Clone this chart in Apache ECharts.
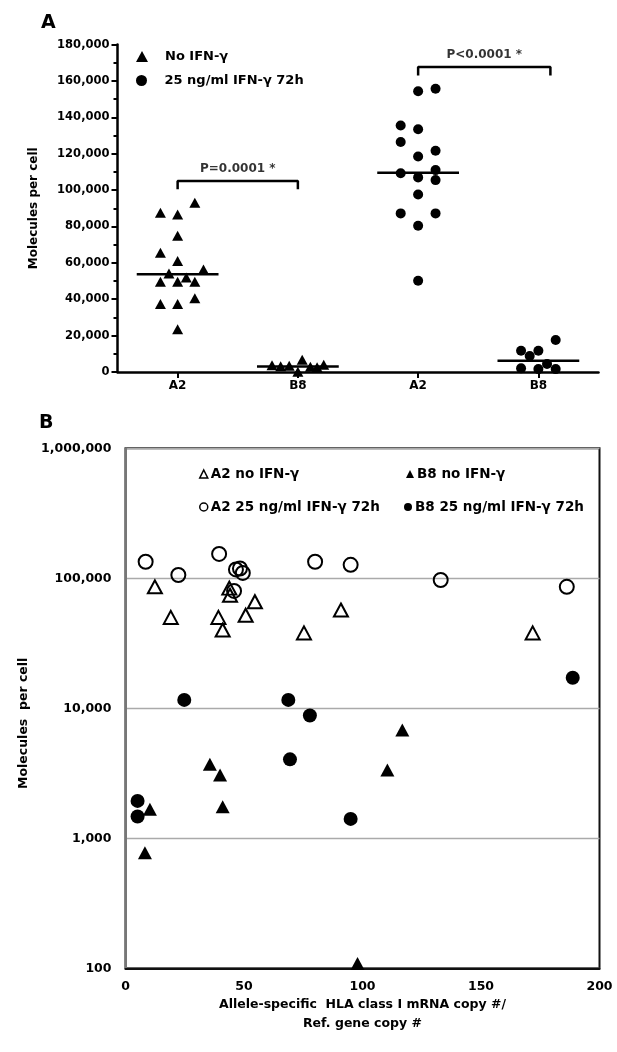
<!DOCTYPE html>
<html><head><meta charset="utf-8">
<script src="https://cdn.jsdelivr.net/npm/echarts@6/dist/echarts.min.js"></script>
<style>html,body{margin:0;padding:0;background:#fff}#c{width:617px;height:1052px}</style>
</head><body><div id="c"></div>
<script>
// ---------- Panel A data ----------
const catLabelsA = ['A2', 'B8', 'A2', 'B8'];
const a2NoVals = [93000, 87500, 86600, 74900, 65500, 61000, 56400, 54200, 49600, 49600, 52000, 49600, 37400, 37400, 40500, 23500];
const a2NoJit  = [0.143, -0.143, 0, 0, -0.143, 0, 0.215, -0.072, -0.143, 0, 0.072, 0.143, -0.143, 0, 0.143, 0];
const b8NoVals = [3700, 3100, 3400, 6800, 150, 2900, 2600, 4000];
const b8NoJit  = [-0.215, -0.143, -0.072, 0.036, 0, 0.104, 0.16, 0.215];
const a2IfnVals = [154400, 155700, 135500, 133500, 126500, 121600, 118500, 109300, 107000, 111000, 105500, 97600, 87200, 87200, 80400, 50200];
const a2IfnJit  = [0, 0.145, -0.145, 0, -0.145, 0.145, 0, -0.145, 0, 0.145, 0.145, 0, -0.145, 0.145, 0, 0];
const b8IfnVals = [17600, 11700, 11700, 8800, 4400, 2000, 1600, 1600];
const b8IfnJit  = [0.144, -0.144, 0, -0.072, 0.072, -0.144, 0, 0.144];
const mediansA = [53700, 3000, 109500, 6200];
const pLabels = ['P=0.0001 *', 'P<0.0001 *'];
const bracketX = [[1, 2], [3, 4.1]];
const bracketTop = [105000, 167700];
const bracketEnd = [100500, 163000];

// ---------- Panel B data ----------
const bA2NoX = [12.4, 19.1, 39.2, 41.0, 43.8, 44.1, 50.7, 54.6, 75.3, 90.9, 171.8];
const bA2NoY = [86000, 50000, 50000, 40000, 84000, 74000, 52000, 66000, 38000, 57000, 38000];
const bA2IfnX = [8.5, 22.3, 39.5, 46.6, 48.3, 49.5, 45.8, 80, 95, 133, 186.2];
const bA2IfnY = [134000, 106000, 154000, 117000, 119000, 110000, 80000, 134000, 127000, 97000, 86000];
const bB8NoX = [35.6, 39.9, 41.0, 10.3, 8.2, 97.9, 116.8, 110.5];
const bB8NoY = [3720, 3070, 1750, 1670, 775, 109, 6800, 3350];
const bB8IfnX = [24.8, 68.7, 77.8, 69.4, 5.1, 5.1, 188.7, 95];
const bB8IfnY = [11600, 11600, 8800, 4050, 1940, 1470, 17200, 1410];

const FONT = 'DejaVu Sans';
const fmt = v => Number(v).toLocaleString('en-US');
const pts = (cat, vals, jit) => vals.map((v, i) => [cat + jit[i], v]);
const zip = (xs, ys) => xs.map((x, i) => [x, ys[i]]);

const nameNoA = 'No IFN-γ';
const nameIfnA = '25 ng/ml IFN-γ 72h';
const nB1 = 'A2 no IFN-γ', nB2 = 'B8 no IFN-γ', nB3 = 'A2 25 ng/ml IFN-γ 72h', nB4 = 'B8 25 ng/ml IFN-γ 72h';

const solid = {color: '#000', opacity: 1};
const series = [
  {name: nameNoA, type: 'scatter', xAxisIndex: 1, yAxisIndex: 0, symbol: 'triangle', symbolSize: [11, 10],
   itemStyle: solid, data: pts(1, a2NoVals, a2NoJit).concat(pts(2, b8NoVals, b8NoJit)), z: 5},
  {name: nameIfnA, type: 'scatter', xAxisIndex: 1, yAxisIndex: 0, symbol: 'circle', symbolSize: 10,
   itemStyle: solid, data: pts(3, a2IfnVals, a2IfnJit).concat(pts(4, b8IfnVals, b8IfnJit)), z: 5}
];
mediansA.forEach((m, i) => {
  series.push({type: 'line', xAxisIndex: 1, yAxisIndex: 0, symbol: 'none', silent: true,
    lineStyle: {color: '#000', width: 2.5, opacity: 1}, data: [[i + 1 - 0.34, m], [i + 1 + 0.34, m]], z: 4});
});
bracketX.forEach((bx, i) => {
  series.push({type: 'line', xAxisIndex: 1, yAxisIndex: 0, symbol: 'none', silent: true,
    lineStyle: {color: '#000', width: 2.5, opacity: 1},
    data: [[bx[0], bracketEnd[i]], [bx[0], bracketTop[i]], [bx[1], bracketTop[i]], [bx[1], bracketEnd[i]]]});
  series.push({type: 'scatter', xAxisIndex: 1, yAxisIndex: 0, symbolSize: 0, silent: true,
    data: [[(bx[0] + bx[1]) / 2, bracketTop[i]]],
    label: {show: true, position: 'top', distance: 6, formatter: pLabels[i], color: '#000',
      fontFamily: FONT, fontWeight: 'bold', fontSize: 12}});
});
const bStyleOpen = {color: 'rgba(0,0,0,0)', borderColor: '#000', borderWidth: 2, opacity: 1};
series.push(
  {name: nB1, type: 'scatter', xAxisIndex: 2, yAxisIndex: 1, symbol: 'triangle', symbolSize: [14, 13], itemStyle: bStyleOpen, data: zip(bA2NoX, bA2NoY)},
  {name: nB3, type: 'scatter', xAxisIndex: 2, yAxisIndex: 1, symbol: 'circle', symbolSize: 14, itemStyle: bStyleOpen, data: zip(bA2IfnX, bA2IfnY)},
  {name: nB2, type: 'scatter', xAxisIndex: 2, yAxisIndex: 1, symbol: 'triangle', symbolSize: [14, 13], itemStyle: solid, data: zip(bB8NoX, bB8NoY)},
  {name: nB4, type: 'scatter', xAxisIndex: 2, yAxisIndex: 1, symbol: 'circle', symbolSize: 14, itemStyle: solid, data: zip(bB8IfnX, bB8IfnY)}
);

const legA = (name, top) => ({data: [name], left: 131, top: top, orient: 'horizontal', selectedMode: false,
  itemWidth: 12, itemHeight: 11, textStyle: {fontFamily: FONT, fontWeight: 'bold', fontSize: 13, color: '#000', padding: [0, 0, 0, 12]}});
const legB = (name, left, top) => ({data: [name], left: left, top: top, selectedMode: false,
  itemWidth: 8, itemHeight: 8, itemStyle: {borderWidth: 1.5},
  textStyle: {fontFamily: FONT, fontWeight: 'bold', fontSize: 13.5, color: '#000', padding: [0, 0, 0, -2]}});

const labelStyle = {fontFamily: FONT, fontWeight: 'bold', color: '#000'};

const option = {
  backgroundColor: '#fff',
  animation: false,
  title: [
    {text: 'A', left: 36, top: 9, textStyle: {fontFamily: FONT, fontWeight: 'bold', fontSize: 19, color: '#000'}},
    {text: 'B', left: 34, top: 409, textStyle: {fontFamily: FONT, fontWeight: 'bold', fontSize: 19, color: '#000'}}
  ],
  legend: [
    legA(nameNoA, 45), legA(nameIfnA, 69),
    legB(nB1, 194, 462), legB(nB2, 401, 462), legB(nB3, 194, 495), legB(nB4, 399, 495)
  ],
  grid: [
    {left: 117.5, top: 44.6, width: 481, height: 327.4, containLabel: false},
    {left: 125.5, top: 448.3, width: 474, height: 520, containLabel: false, show: true, borderColor: '#111', borderWidth: 2}
  ],
  xAxis: [
    {type: 'category', gridIndex: 0, data: catLabelsA, boundaryGap: true,
     axisLine: {show: true, onZero: false, lineStyle: {color: '#000', width: 2.5}},
     axisTick: {show: true, alignWithLabel: true, length: 6, lineStyle: {color: '#000', width: 2}},
     axisLabel: Object.assign({fontSize: 12, margin: 8}, labelStyle), splitLine: {show: false}},
    {type: 'value', gridIndex: 0, min: 0.5, max: 4.5, show: false, splitLine: {show: false}},
    {type: 'value', gridIndex: 1, min: 0, max: 200, interval: 50,
     name: 'Allele-specific  HLA class I mRNA copy #/\nRef. gene copy #', nameLocation: 'middle', nameGap: 27,
     nameTextStyle: Object.assign({fontSize: 12.5, lineHeight: 19}, labelStyle),
     axisLine: {show: true, onZero: false, lineStyle: {color: '#111', width: 2}},
     axisTick: {show: false}, splitLine: {show: false},
     axisLabel: Object.assign({fontSize: 12.5, margin: 12}, labelStyle)}
  ],
  yAxis: [
    {type: 'value', gridIndex: 0, min: 0, max: 180000, interval: 20000,
     name: 'Molecules per cell', nameLocation: 'middle', nameGap: 78,
     nameTextStyle: Object.assign({fontSize: 12}, labelStyle),
     axisLine: {show: true, onZero: false, lineStyle: {color: '#000', width: 2.5}},
     axisTick: {show: true, length: 6, lineStyle: {color: '#000', width: 2}},
     minorTick: {show: true, splitNumber: 2, length: 4, lineStyle: {color: '#000', width: 2}},
     splitLine: {show: false}, minorSplitLine: {show: false},
     axisLabel: Object.assign({fontSize: 11.5, margin: 8, formatter: fmt}, labelStyle)},
    {type: 'log', gridIndex: 1, logBase: 10, min: 100, max: 1000000,
     name: 'Molecules  per cell', nameLocation: 'middle', nameGap: 93,
     nameTextStyle: Object.assign({fontSize: 12.5, padding: [0, 0, 0, -30]}, labelStyle),
     axisLine: {show: true, onZero: false, lineStyle: {color: '#777', width: 2}},
     axisTick: {show: false},
     splitLine: {show: true, lineStyle: {color: '#aaa', width: 1.3}},
     axisLabel: Object.assign({fontSize: 12.5, margin: 14, formatter: fmt}, labelStyle)}
  ],
  series: series
};
const chart = echarts.init(document.getElementById('c'), null, {renderer: 'canvas'});
chart.setOption(option);
</script>
</body></html>
